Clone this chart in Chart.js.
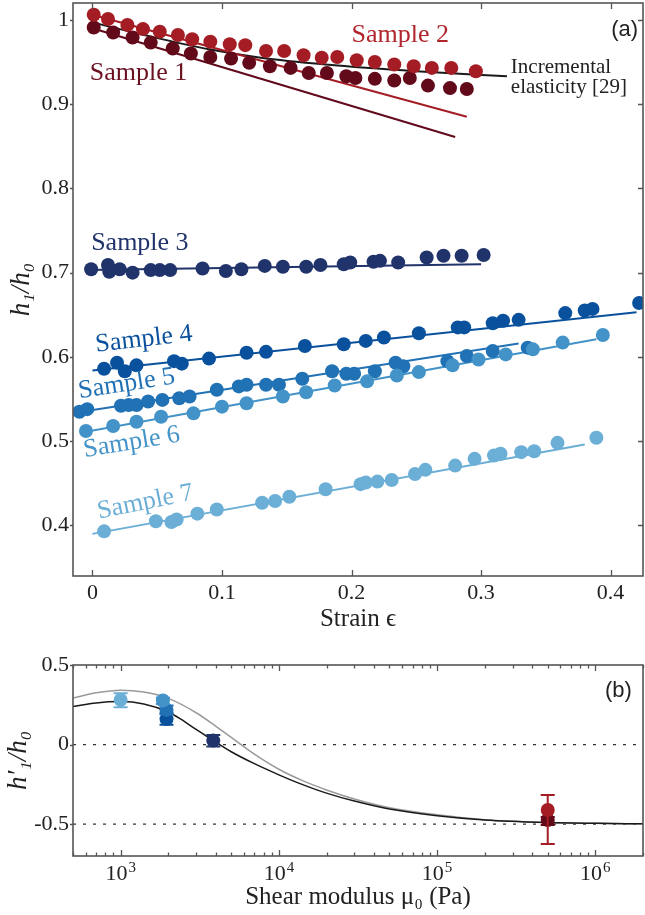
<!DOCTYPE html>
<html>
<head>
<meta charset="utf-8">
<script src="https://cdn.jsdelivr.net/npm/chart.js@4.4.1/dist/chart.umd.min.js"></script>
<style>
  html, body { margin: 0; padding: 0; background: #fff; }
  canvas { display: block; }
</style>
</head>
<body>
<canvas id="chartA" width="645" height="640"></canvas>
<canvas id="chartB" width="645" height="275"></canvas>
<script>
// ---- panel (a): h1/h0 against strain ----
const strainTicks = [0, 0.1, 0.2, 0.3, 0.4];
const ratioTicks = [0.4, 0.5, 0.6, 0.7, 0.8, 0.9, 1];

const s1X = [0.001, 0.016, 0.031, 0.045, 0.062, 0.076, 0.091, 0.107, 0.121, 0.137, 0.153, 0.167, 0.181, 0.196, 0.203, 0.218, 0.233, 0.245, 0.259, 0.276, 0.289];
const s1Y = [0.991, 0.985, 0.979, 0.973, 0.966, 0.960, 0.956, 0.954, 0.949, 0.945, 0.943, 0.937, 0.937, 0.933, 0.931, 0.930, 0.928, 0.931, 0.922, 0.919, 0.918];
const s2X = [0.001, 0.012, 0.027, 0.039, 0.052, 0.066, 0.077, 0.091, 0.106, 0.118, 0.134, 0.148, 0.163, 0.177, 0.189, 0.204, 0.218, 0.233, 0.248, 0.262, 0.277, 0.296];
const s2Y = [1.006, 1.001, 0.994, 0.989, 0.986, 0.982, 0.977, 0.974, 0.971, 0.970, 0.963, 0.963, 0.958, 0.955, 0.956, 0.952, 0.950, 0.947, 0.945, 0.943, 0.943, 0.939];
const s3X = [-0.001, 0.012, 0.013, 0.021, 0.031, 0.045, 0.052, 0.060, 0.085, 0.103, 0.115, 0.133, 0.147, 0.165, 0.176, 0.194, 0.199, 0.217, 0.222, 0.236, 0.258, 0.271, 0.285, 0.302];
const s3Y = [0.704, 0.709, 0.701, 0.704, 0.700, 0.703, 0.703, 0.703, 0.705, 0.702, 0.704, 0.708, 0.707, 0.707, 0.709, 0.710, 0.712, 0.713, 0.714, 0.712, 0.718, 0.720, 0.720, 0.721];
const s4X = [0.009, 0.019, 0.025, 0.034, 0.063, 0.069, 0.090, 0.119, 0.134, 0.164, 0.194, 0.211, 0.225, 0.252, 0.282, 0.287, 0.309, 0.317, 0.329, 0.365, 0.380, 0.386, 0.422];
const s4Y = [0.586, 0.593, 0.583, 0.590, 0.595, 0.592, 0.598, 0.605, 0.606, 0.613, 0.615, 0.619, 0.623, 0.628, 0.635, 0.635, 0.640, 0.643, 0.644, 0.652, 0.655, 0.657, 0.664];
const s5X = [-0.010, -0.004, 0.022, 0.028, 0.034, 0.043, 0.054, 0.067, 0.075, 0.096, 0.113, 0.119, 0.134, 0.144, 0.162, 0.185, 0.196, 0.202, 0.218, 0.234, 0.240, 0.274, 0.289, 0.309, 0.336];
const s5Y = [0.535, 0.538, 0.542, 0.543, 0.543, 0.547, 0.549, 0.551, 0.553, 0.561, 0.565, 0.567, 0.567, 0.567, 0.574, 0.583, 0.580, 0.580, 0.583, 0.593, 0.589, 0.595, 0.601, 0.607, 0.611];
const s6X = [-0.005, 0.016, 0.034, 0.053, 0.078, 0.100, 0.119, 0.147, 0.165, 0.187, 0.212, 0.235, 0.252, 0.278, 0.298, 0.319, 0.340, 0.363, 0.394];
const s6Y = [0.512, 0.518, 0.523, 0.529, 0.533, 0.541, 0.545, 0.553, 0.558, 0.566, 0.571, 0.578, 0.582, 0.590, 0.597, 0.603, 0.609, 0.617, 0.626];
const s7X = [0.009, 0.049, 0.061, 0.065, 0.081, 0.096, 0.131, 0.141, 0.152, 0.180, 0.207, 0.211, 0.220, 0.231, 0.249, 0.257, 0.280, 0.295, 0.310, 0.315, 0.331, 0.341, 0.359, 0.389];
const s7Y = [0.393, 0.405, 0.404, 0.407, 0.414, 0.419, 0.427, 0.429, 0.434, 0.443, 0.449, 0.451, 0.452, 0.454, 0.461, 0.466, 0.471, 0.479, 0.483, 0.485, 0.487, 0.488, 0.498, 0.504];

// linear fits (end points)
const fit1X = [0, 0.280],      fit1Y = [0.990, 0.861];
const fit2X = [0, 0.289],      fit2Y = [1.006, 0.885];
const fit3X = [-0.005, 0.300], fit3Y = [0.703, 0.710];
const fit4X = [0, 0.420],      fit4Y = [0.584, 0.653];
const fit5X = [-0.012, 0.329], fit5Y = [0.534, 0.616];
const fit6X = [-0.006, 0.389], fit6Y = [0.511, 0.621];
const fit7X = [0, 0.380],      fit7Y = [0.390, 0.496];

// incremental elasticity curve
const elastX = [0, 0.04, 0.09, 0.13, 0.18, 0.25, 0.32];
const elastY = [0.997, 0.982, 0.965, 0.955, 0.947, 0.939, 0.933];

const sampleNames = ['Sample 1', 'Sample 2', 'Sample 3', 'Sample 4', 'Sample 5', 'Sample 6', 'Sample 7'];
const sampleColors = ['#62091a', '#a51d24', '#20336a', '#0a519d', '#2171b5', '#4393c8', '#6baed6'];

// ---- panel (b): h1'/h0 against shear modulus ----
const muDecades = [1e3, 1e4, 1e5, 1e6];
const slopeTicks = [-0.5, 0, 0.5];
const refLevels = [0, -0.5];

const grayMu = [500, 700, 1000, 1400, 2000, 3000, 4000, 5000, 7000, 10000, 14000, 20000, 30000, 50000, 100000, 200000, 500000, 1000000, 2000000];
const grayH = [0.292, 0.325, 0.342, 0.330, 0.290, 0.200, 0.115, 0.045, -0.060, -0.155, -0.225, -0.285, -0.342, -0.397, -0.441, -0.472, -0.489, -0.495, -0.498];
const blackMu = [500, 700, 1000, 1400, 2000, 2400, 3000, 3850, 5000, 7000, 10000, 14000, 20000, 30000, 50000, 100000, 200000, 500000, 1000000, 2000000];
const blackH = [0.239, 0.262, 0.270, 0.255, 0.205, 0.160, 0.095, 0.025, -0.045, -0.120, -0.190, -0.250, -0.305, -0.355, -0.405, -0.447, -0.474, -0.490, -0.495, -0.498];

// one point per sample (samples 1..7), with error bar limits
const sampleMu = [500000, 500000, 3850, 1950, 1950, 1850, 1000];
const sampleH = [-0.474, -0.411, 0.025, 0.160, 0.218, 0.277, 0.281];
const sampleLow = [-0.505, -0.625, -0.012, 0.124, 0.190, 0.255, 0.235];
const sampleHigh = [-0.455, -0.316, 0.060, 0.197, 0.245, 0.295, 0.323];

const serif = "'Liberation Serif', 'DejaVu Serif', serif";
const sans = "'Liberation Sans', Arial, sans-serif";
const inkColor = '#222';

function pts(xs, ys) {
    return xs.map((x, i) => ({ x: x, y: ys[i] }));
}

// frame with MATLAB-like ticks (and 10^n labels on log axes)
const boxPlugin = {
    id: 'box',
    afterDraw(chart, args, opts) {
        const { ctx, chartArea: a, scales } = chart;
        ctx.save();
        ctx.strokeStyle = '#555';
        ctx.lineWidth = 1.3;
        ctx.beginPath();
        scales.x.ticks.forEach(t => {
            const px = Math.round(scales.x.getPixelForValue(t.value)) + 0.5;
            const len = t.major === false ? 3.5 : 6;
            ctx.moveTo(px, a.bottom); ctx.lineTo(px, a.bottom - len);
            ctx.moveTo(px, a.top); ctx.lineTo(px, a.top + len);
        });
        scales.y.ticks.forEach(t => {
            const py = Math.round(scales.y.getPixelForValue(t.value)) + 0.5;
            ctx.moveTo(a.left - 3, py); ctx.lineTo(a.left, py);
            if (opts.rightTicks) { ctx.moveTo(a.right, py); ctx.lineTo(a.right - 5, py); }
        });
        ctx.stroke();
        ctx.lineWidth = 1.6;
        ctx.strokeRect(a.left, a.top, a.right - a.left, a.bottom - a.top);

        if (opts.decadeLabels) {
            ctx.fillStyle = inkColor;
            ctx.textBaseline = 'alphabetic';
            ctx.textAlign = 'left';
            opts.decadeLabels.forEach(v => {
                const px = scales.x.getPixelForValue(v);
                const expo = String(Math.round(Math.log10(v)));
                ctx.font = `22px ${serif}`;
                const wBase = ctx.measureText('10').width;
                ctx.font = `15px ${serif}`;
                const wExp = ctx.measureText(expo).width;
                const x0 = px - (wBase + wExp + 1) / 2;
                const base = a.bottom + 24;
                ctx.font = `22px ${serif}`;
                ctx.fillText('10', x0, base);
                ctx.font = `15px ${serif}`;
                ctx.fillText(expo, x0 + wBase + 1, base - 8);
            });
        }
        ctx.restore();
    }
};

// free text placed in data coordinates
const notesPlugin = {
    id: 'notes',
    afterDatasetsDraw(chart, args, opts) {
        const { ctx, scales: { x, y } } = chart;
        (opts.items || []).forEach(it => {
            ctx.save();
            ctx.translate(x.getPixelForValue(it.x), y.getPixelForValue(it.y));
            ctx.rotate(-(it.angle || 0) * Math.PI / 180);
            ctx.font = it.font;
            ctx.fillStyle = it.color;
            ctx.textAlign = 'left';
            ctx.textBaseline = 'alphabetic';
            it.lines.forEach((t, i) => ctx.fillText(t, 0, i * (it.lh || 0)));
            ctx.restore();
        });
    }
};

// vertical error bars, drawn just under each sample's marker
const errorBarPlugin = {
    id: 'errorBars',
    beforeDatasetDraw(chart, args) {
        const ds = chart.data.datasets[args.index];
        if (!ds.errLow) return;
        const { ctx, scales: { x, y } } = chart;
        ctx.save();
        ctx.strokeStyle = ds.backgroundColor;
        ctx.lineWidth = 2;
        ds.data.forEach((p, i) => {
            const px = x.getPixelForValue(p.x);
            const lo = y.getPixelForValue(ds.errLow[i]);
            const hi = y.getPixelForValue(ds.errHigh[i]);
            ctx.beginPath();
            ctx.moveTo(px, lo); ctx.lineTo(px, hi);
            ctx.moveTo(px - 7, lo); ctx.lineTo(px + 7, lo);
            ctx.moveTo(px - 7, hi); ctx.lineTo(px + 7, hi);
            ctx.stroke();
        });
        ctx.restore();
    }
};

// pin the plot box: fixed axis sizes and no extra label padding
function fixX(height) {
    return s => { s.height = height; s.paddingLeft = 0; s.paddingRight = 0; };
}
function fixY(width) {
    return s => { s.width = width; s.paddingTop = 0; s.paddingBottom = 0; };
}

function createStrainChart() {
    const sX = [s1X, s2X, s3X, s4X, s5X, s6X, s7X];
    const sY = [s1Y, s2Y, s3Y, s4Y, s5Y, s6Y, s7Y];
    const fX = [fit1X, fit2X, fit3X, fit4X, fit5X, fit6X, fit7X];
    const fY = [fit1Y, fit2Y, fit3Y, fit4Y, fit5Y, fit6Y, fit7Y];

    const datasets = [{
        data: pts(elastX, elastY),
        showLine: true,
        borderColor: '#1a1a1a',
        borderWidth: 2,
        pointRadius: 0,
        cubicInterpolationMode: 'monotone',
        order: 60
    }];
    sampleNames.forEach((name, k) => {
        datasets.push({
            label: name + ' fit',
            data: pts(fX[k], fY[k]),
            showLine: true,
            borderColor: sampleColors[k],
            borderWidth: 2,
            pointRadius: 0,
            order: 50
        });
        datasets.push({
            label: name,
            data: pts(sX[k], sY[k]),
            backgroundColor: sampleColors[k],
            borderWidth: 0,
            pointRadius: 7,
            order: 20 - k // later samples on top
        });
    });

    const labelFont = `26px ${serif}`;
    const notes = [
        { lines: ['Sample 1'], x: -0.002, y: 0.929, angle: 0, color: '#6a1020', font: labelFont },
        { lines: ['Sample 2'], x: 0.200, y: 0.974, angle: 0, color: '#b0262c', font: labelFont },
        { lines: ['Sample 3'], x: -0.001, y: 0.727, angle: 0, color: sampleColors[2], font: labelFont },
        { lines: ['Sample 4'], x: 0.003, y: 0.606, angle: 6.6, color: sampleColors[3], font: labelFont },
        { lines: ['Sample 5'], x: -0.010, y: 0.551, angle: 8.8, color: sampleColors[4], font: labelFont },
        { lines: ['Sample 6'], x: -0.006, y: 0.481, angle: 9.3, color: sampleColors[5], font: labelFont },
        { lines: ['Sample 7'], x: 0.005, y: 0.408, angle: 11.5, color: sampleColors[6], font: labelFont },
        { lines: ['Incremental', 'elasticity [29]'], x: 0.323, y: 0.937, angle: 0, lh: 20, color: inkColor, font: `21px ${serif}` },
        { lines: ['(a)'], x: 0.4005, y: 0.981, angle: 0, color: inkColor, font: `22px ${sans}` }
    ];

    new Chart(document.getElementById('chartA'), {
        type: 'scatter',
        data: { datasets },
        options: {
            responsive: false,
            animation: false,
            layout: { autoPadding: false, padding: { top: 3, right: 2, left: 0, bottom: 0 } },
            plugins: {
                legend: { display: false },
                tooltip: { enabled: false },
                notes: { items: notes },
                box: { rightTicks: true }
            },
            scales: {
                x: {
                    type: 'linear',
                    min: -0.015,
                    max: 0.425,
                    grid: { display: false, drawTicks: false },
                    border: { display: false },
                    afterBuildTicks: s => { s.ticks = strainTicks.map(v => ({ value: v })); },
                    afterFit: fixX(64),
                    ticks: {
                        autoSkip: false,
                        maxRotation: 0,
                        padding: 4,
                        color: inkColor,
                        font: { family: serif, size: 22 },
                        callback: v => (v === 0 ? '0' : v.toFixed(1))
                    },
                    title: {
                        display: true,
                        text: 'Strain ϵ',
                        color: inkColor,
                        font: { family: serif, size: 25 },
                        padding: { top: 0, bottom: 6 }
                    }
                },
                y: {
                    type: 'linear',
                    min: 0.34,
                    max: 1.02,
                    grid: { display: false, drawTicks: false },
                    border: { display: false },
                    afterBuildTicks: s => { s.ticks = ratioTicks.map(v => ({ value: v })); },
                    afterFit: fixY(73),
                    ticks: {
                        autoSkip: false,
                        padding: 4,
                        color: inkColor,
                        font: { family: serif, size: 22 },
                        callback: v => (v === 1 ? '1' : v.toFixed(1))
                    },
                    title: {
                        display: true,
                        text: 'h₁/h₀',
                        color: inkColor,
                        font: { family: serif, size: 27, style: 'italic' },
                        padding: { top: 6, bottom: 0 }
                    }
                }
            }
        },
        plugins: [boxPlugin, notesPlugin]
    });
}

function createModulusChart() {
    const datasets = [
        {
            data: pts(grayMu, grayH),
            showLine: true,
            borderColor: '#9a9a9a',
            borderWidth: 1.5,
            pointRadius: 0,
            cubicInterpolationMode: 'monotone',
            order: 60
        },
        {
            data: pts(blackMu, blackH),
            showLine: true,
            borderColor: '#1a1a1a',
            borderWidth: 1.5,
            pointRadius: 0,
            cubicInterpolationMode: 'monotone',
            order: 55
        }
    ];
    refLevels.forEach(level => {
        datasets.push({
            data: [{ x: 500, y: level }, { x: 2000000, y: level }],
            showLine: true,
            borderColor: '#333',
            borderWidth: 1.4,
            borderDash: [3, 7],
            pointRadius: 0,
            order: 70
        });
    });
    sampleNames.forEach((name, k) => {
        datasets.push({
            label: name,
            data: [{ x: sampleMu[k], y: sampleH[k] }],
            errLow: [sampleLow[k]],
            errHigh: [sampleHigh[k]],
            backgroundColor: sampleColors[k],
            borderWidth: 0,
            pointRadius: 7,
            order: 20 - k
        });
    });

    new Chart(document.getElementById('chartB'), {
        type: 'scatter',
        data: { datasets },
        options: {
            responsive: false,
            animation: false,
            layout: { autoPadding: false, padding: { top: 25, right: 2, left: 0, bottom: 0 } },
            plugins: {
                legend: { display: false },
                tooltip: { enabled: false },
                notes: { items: [{ lines: ['(b)'], x: 1150000, y: 0.30, angle: 0, color: inkColor, font: `22px ${sans}` }] },
                box: { rightTicks: false, decadeLabels: muDecades }
            },
            scales: {
                x: {
                    type: 'logarithmic',
                    min: 500,
                    max: 2000000,
                    grid: { display: false, drawTicks: false },
                    border: { display: false },
                    afterBuildTicks: s => {
                        const ticks = [];
                        for (let e = Math.floor(Math.log10(s.min)); e <= Math.ceil(Math.log10(s.max)); e++) {
                            for (let m = 1; m <= 9; m++) {
                                const v = m * Math.pow(10, e);
                                if (v >= s.min && v <= s.max) ticks.push({ value: v, major: m === 1 });
                            }
                        }
                        s.ticks = ticks;
                    },
                    afterFit: fixX(59),
                    ticks: {
                        autoSkip: false,
                        maxRotation: 0,
                        padding: 4,
                        font: { family: serif, size: 22 },
                        callback: () => '' // decade labels drawn by the box plugin
                    },
                    title: {
                        display: true,
                        text: 'Shear modulus μ₀ (Pa)',
                        color: inkColor,
                        font: { family: serif, size: 25 },
                        padding: { top: 0, bottom: 3 }
                    }
                },
                y: {
                    type: 'linear',
                    min: -0.7,
                    max: 0.5,
                    grid: { display: false, drawTicks: false },
                    border: { display: false },
                    afterBuildTicks: s => { s.ticks = slopeTicks.map(v => ({ value: v })); },
                    afterFit: fixY(73),
                    ticks: {
                        autoSkip: false,
                        padding: 4,
                        color: inkColor,
                        font: { family: serif, size: 22 },
                        callback: v => (v === 0 ? '0' : v.toFixed(1))
                    },
                    title: {
                        display: true,
                        text: 'h′₁/h₀',
                        color: inkColor,
                        font: { family: serif, size: 27, style: 'italic' },
                        padding: { top: 3, bottom: 0 }
                    }
                }
            }
        },
        plugins: [boxPlugin, notesPlugin, errorBarPlugin]
    });
}

createStrainChart();
createModulusChart();
</script>
</body>
</html>
